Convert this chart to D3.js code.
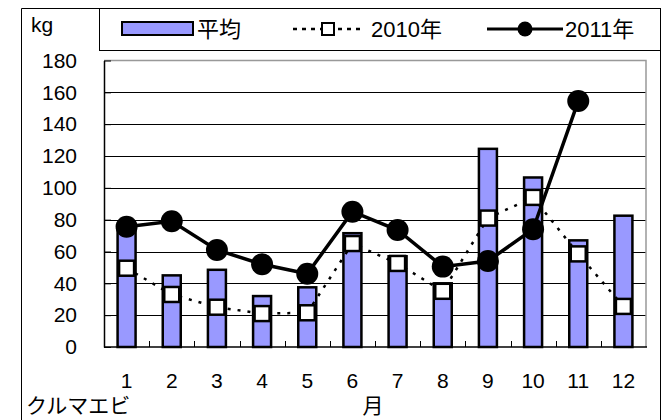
<!DOCTYPE html>
<html>
<head>
<meta charset="utf-8">
<script src="https://cdnjs.cloudflare.com/ajax/libs/d3/7.8.5/d3.min.js"></script>
<style>
  body { margin: 0; background: #fff; }
  text { font-family: "Liberation Sans", "Noto Sans CJK JP", sans-serif; fill: #000; }
</style>
</head>
<body>
<div id="container"></div>
<script>
// data
const months = ["1","2","3","4","5","6","7","8","9","10","11","12"];
const avgValues = [73, 45, 48.5, 32, 37.5, 71.5, 57, 40, 124.5, 106.5, 67, 82.5];
const values2010 = [49.5, 33, 25, 21, 21.5, 65, 52.5, 35, 81, 94, 58.5, 25.5];
const values2011 = [75.5, 79, 61, 52, 46, 85, 73.5, 50.5, 54, 74, 154.5, null];
const yTicks = [0, 20, 40, 60, 80, 100, 120, 140, 160, 180];

const width = 664;
const height = 420;
const plot = {left: 104, right: 646, top: 60.5, bottom: 347};

const svg = d3.select("#container").append("svg")
  .attr("width", width).attr("height", height);

const xScale = d3.scaleBand()
  .domain(months)
  .range([plot.left, plot.right]);

const yScale = d3.scaleLinear()
  .domain([0, 180])
  .range([plot.bottom, plot.top]);

const barWidth = 18;
const cx = m => xScale(m) + xScale.bandwidth() / 2;

// outer frame and legend box
svg.append("path")
  .attr("d", "M21.5,420 V8.5 H660.5 V420")
  .attr("fill", "none").attr("stroke", "#000").attr("stroke-width", 1);
svg.append("rect")
  .attr("x", 99.5).attr("y", 8.5).attr("width", 561).attr("height", 42)
  .attr("fill", "none").attr("stroke", "#000").attr("stroke-width", 1);

// gridlines
svg.append("g").selectAll("line")
  .data(yTicks.filter(t => t > 0 && t < 180))
  .enter().append("line")
  .attr("x1", plot.left).attr("x2", plot.right)
  .attr("y1", d => Math.round(yScale(d)) + 0.5)
  .attr("y2", d => Math.round(yScale(d)) + 0.5)
  .attr("stroke", "#000").attr("stroke-width", 1);

// plot border top & right (gray)
svg.append("path")
  .attr("d", `M${plot.left},${plot.top} H${plot.right} V${plot.bottom}`)
  .attr("fill", "none").attr("stroke", "#999").attr("stroke-width", 1.5);

// y axis
const yAxis = d3.axisLeft(yScale).tickValues(yTicks).tickSizeInner(-7).tickSizeOuter(0).tickPadding(27);
const gy = svg.append("g")
  .attr("transform", "translate(" + plot.left + ",0)")
  .call(yAxis);
gy.select(".domain").attr("stroke", "#000").attr("stroke-width", 1.5);
gy.selectAll(".tick line").attr("stroke", "#000");
gy.selectAll("text").style("font-size", "21px").attr("font-family", null);

// x axis labels
const xAxis = d3.axisBottom(xScale).tickSize(0).tickPadding(26);
const gx = svg.append("g")
  .attr("transform", "translate(0," + plot.bottom + ")")
  .call(xAxis);
gx.select(".domain").remove();
gx.selectAll("text").style("font-size", "21px").attr("font-family", null);

// bars (average)
svg.append("g").selectAll("rect")
  .data(months)
  .enter().append("rect")
  .attr("x", d => cx(d) - barWidth / 2)
  .attr("y", (d, i) => yScale(avgValues[i]))
  .attr("width", barWidth)
  .attr("height", (d, i) => plot.bottom - yScale(avgValues[i]))
  .attr("fill", "#9999FF")
  .attr("stroke", "#000").attr("stroke-width", 2.5);

// x axis line and between-category ticks
svg.append("line")
  .attr("x1", plot.left).attr("x2", plot.right + 1)
  .attr("y1", plot.bottom).attr("y2", plot.bottom)
  .attr("stroke", "#000").attr("stroke-width", 1.5);
svg.append("g").selectAll("line")
  .data(months.slice(1))
  .enter().append("line")
  .attr("x1", d => Math.round(xScale(d)) + 0.5)
  .attr("x2", d => Math.round(xScale(d)) + 0.5)
  .attr("y1", plot.bottom).attr("y2", plot.bottom - 6)
  .attr("stroke", "#000").attr("stroke-width", 1);

// 2010 dotted line
const line2010 = d3.line()
  .x((d, i) => cx(months[i]))
  .y(d => yScale(d));
svg.append("path")
  .datum(values2010)
  .attr("d", line2010)
  .attr("fill", "none").attr("stroke", "#000")
  .attr("stroke-width", 2.5).attr("stroke-dasharray", "3,7");

// 2010 squares
svg.append("g").selectAll("rect")
  .data(values2010)
  .enter().append("rect")
  .attr("x", (d, i) => cx(months[i]) - 7.5)
  .attr("y", d => yScale(d) - 7.5)
  .attr("width", 15).attr("height", 15)
  .attr("fill", "#fff").attr("stroke", "#000").attr("stroke-width", 2.5);

// 2011 line
const line2011 = d3.line()
  .defined(d => d != null)
  .x((d, i) => cx(months[i]))
  .y(d => yScale(d));
svg.append("path")
  .datum(values2011)
  .attr("d", line2011)
  .attr("fill", "none").attr("stroke", "#000").attr("stroke-width", 3.5);

svg.append("g").selectAll("circle")
  .data(values2011.map((v, i) => [months[i], v]).filter(d => d[1] != null))
  .enter().append("circle")
  .attr("cx", d => cx(d[0]))
  .attr("cy", d => yScale(d[1]))
  .attr("r", 11)
  .attr("fill", "#000");

// unit + captions
svg.append("text").attr("x", 31).attr("y", 32).style("font-size", "21px").text("kg");
svg.append("text").attr("x", 26).attr("y", 413).style("font-size", "21px").text("クルマエビ");
svg.append("text").attr("x", 373).attr("y", 413).attr("text-anchor", "middle").style("font-size", "21px").text("月");

// legend
const lg = svg.append("g");
lg.append("rect").attr("x", 122).attr("y", 22).attr("width", 71).attr("height", 13)
  .attr("fill", "#9999FF").attr("stroke", "#000").attr("stroke-width", 2);
lg.append("text").attr("x", 197).attr("y", 37).style("font-size", "22px").text("平均");

lg.append("line").attr("x1", 293).attr("x2", 365).attr("y1", 29).attr("y2", 29)
  .attr("stroke", "#000").attr("stroke-width", 2.5).attr("stroke-dasharray", "4,5");
lg.append("rect").attr("x", 322).attr("y", 23).attr("width", 12).attr("height", 12)
  .attr("fill", "#fff").attr("stroke", "#000").attr("stroke-width", 2);
lg.append("text").attr("x", 371).attr("y", 37).style("font-size", "22px").text("2010年");

lg.append("line").attr("x1", 487).attr("x2", 563).attr("y1", 29).attr("y2", 29)
  .attr("stroke", "#000").attr("stroke-width", 3);
lg.append("circle").attr("cx", 525).attr("cy", 29).attr("r", 7.5).attr("fill", "#000");
lg.append("text").attr("x", 565).attr("y", 37).style("font-size", "22px").text("2011年");
</script>
</body>
</html>
